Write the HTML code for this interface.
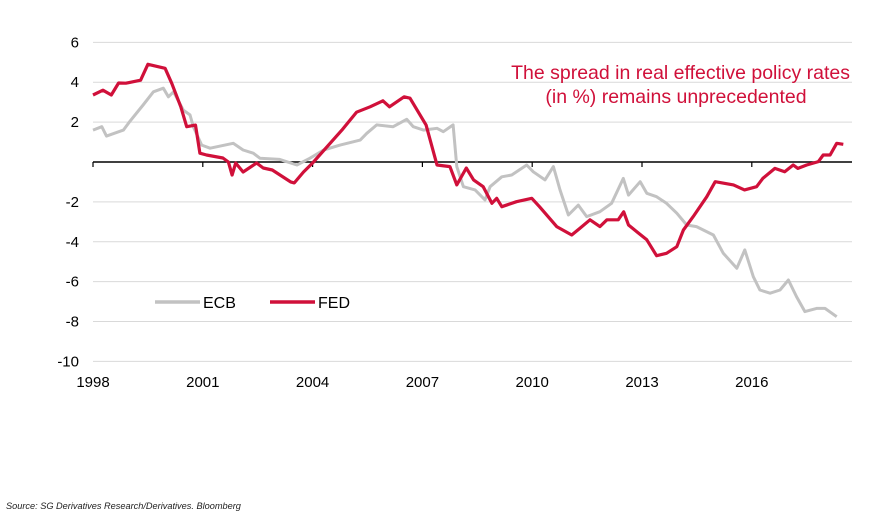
<!DOCTYPE html>
<html><head><meta charset="utf-8"><style>
body{margin:0;background:#fff;width:894px;height:515px;overflow:hidden;font-family:"Liberation Sans",Arial,sans-serif}
</style></head><body>
<svg width="894" height="515" xmlns="http://www.w3.org/2000/svg">
<g id="grid"></g>
<g id="ylab"></g>
<g id="xlab"></g>
<path id="ecb" fill="none" stroke="#c2c2c2" stroke-width="3" stroke-linejoin="round"/>
<path id="fed" fill="none" stroke="#d0103a" stroke-width="3.2" stroke-linejoin="round"/>
<g fill="#d0103a" font-size="19.5">
<text x="850" y="79" text-anchor="end">The spread in real effective policy rates</text>
<text x="676" y="103" text-anchor="middle">(in %) remains unprecedented</text>
</g>
<g font-size="16">
<line x1="155" y1="302" x2="200" y2="302" stroke="#c2c2c2" stroke-width="3.5"/>
<text x="203" y="308">ECB</text>
<line x1="270" y1="302" x2="315" y2="302" stroke="#d0103a" stroke-width="3.5"/>
<text x="318" y="308">FED</text>
</g>
<text x="6" y="509" font-size="9.2" font-style="italic" fill="#222">Source: SG Derivatives Research/Derivatives. Bloomberg</text>
</svg>
<script>
const yTicks=[6,4,2,0,-2,-4,-6,-8,-10];
const xTicks=[1998,2001,2004,2007,2010,2013,2016];
const fedYears=[1998.0,1998.27,1998.5,1998.7,1998.9,1999.3,1999.5,1999.97,2000.15,2000.4,2000.56,2000.8,2000.92,2001.1,2001.55,2001.7,2001.8,2001.9,2002.1,2002.47,2002.65,2002.9,2003.4,2003.5,2003.75,2004.0,2004.4,2004.8,2005.2,2005.57,2005.92,2006.1,2006.5,2006.66,2007.1,2007.4,2007.75,2007.94,2008.2,2008.4,2008.66,2008.9,2009.03,2009.17,2009.57,2009.99,2010.2,2010.67,2011.08,2011.3,2011.58,2011.85,2012.04,2012.35,2012.5,2012.63,2013.13,2013.4,2013.67,2013.95,2014.13,2014.4,2014.77,2015.0,2015.5,2015.8,2016.13,2016.3,2016.63,2016.9,2017.13,2017.26,2017.5,2017.82,2017.95,2018.14,2018.32,2018.5];
const fedValues=[3.36,3.6,3.36,3.96,3.95,4.1,4.9,4.7,3.95,2.77,1.77,1.85,0.44,0.35,0.2,0.0,-0.65,-0.05,-0.5,-0.05,-0.3,-0.4,-1.0,-1.05,-0.5,-0.05,0.77,1.6,2.5,2.77,3.07,2.77,3.27,3.2,1.85,-0.15,-0.23,-1.15,-0.3,-0.9,-1.24,-2.07,-1.82,-2.24,-1.99,-1.82,-2.24,-3.24,-3.66,-3.33,-2.9,-3.24,-2.9,-2.9,-2.5,-3.16,-3.9,-4.7,-4.58,-4.25,-3.41,-2.74,-1.74,-0.99,-1.15,-1.4,-1.24,-0.82,-0.32,-0.49,-0.15,-0.32,-0.15,0.02,0.35,0.35,0.94,0.89];
const ecbYears=[1998.0,1998.24,1998.37,1998.83,1999.0,1999.37,1999.65,1999.92,2000.06,2000.2,2000.47,2000.65,2000.74,2000.97,2001.2,2001.83,2002.1,2002.38,2002.56,2003.1,2003.57,2003.93,2004.3,2004.75,2005.3,2005.48,2005.75,2006.2,2006.57,2006.75,2007.03,2007.4,2007.57,2007.84,2007.94,2008.12,2008.44,2008.71,2008.85,2009.17,2009.44,2009.85,2010.03,2010.35,2010.58,2010.76,2010.99,2011.26,2011.49,2011.85,2012.17,2012.49,2012.63,2012.95,2013.13,2013.4,2013.67,2013.95,2014.22,2014.49,2014.95,2015.22,2015.59,2015.81,2016.04,2016.22,2016.5,2016.77,2017.0,2017.22,2017.45,2017.77,2018.0,2018.32];
const ecbValues=[1.6,1.77,1.3,1.6,2.02,2.86,3.52,3.7,3.27,3.52,2.6,2.36,1.77,0.85,0.69,0.94,0.6,0.44,0.19,0.13,-0.15,0.19,0.6,0.85,1.1,1.44,1.86,1.77,2.14,1.77,1.6,1.69,1.52,1.86,-0.23,-1.24,-1.4,-1.9,-1.24,-0.74,-0.65,-0.15,-0.49,-0.9,-0.23,-1.4,-2.66,-2.16,-2.74,-2.49,-2.07,-0.82,-1.66,-0.99,-1.57,-1.74,-2.07,-2.57,-3.16,-3.24,-3.66,-4.58,-5.33,-4.41,-5.75,-6.42,-6.58,-6.42,-5.92,-6.75,-7.5,-7.34,-7.34,-7.76];
const X0=93,PX_YR=36.6,Y0=162,PX_U=19.94,XR=852;
const xs=y=>X0+(y-1998)*PX_YR, ys=v=>Y0-v*PX_U;
const NS="http://www.w3.org/2000/svg";
const grid=document.getElementById('grid'),yl=document.getElementById('ylab'),xl=document.getElementById('xlab');
yTicks.forEach(t=>{
 const l=document.createElementNS(NS,'line');
 
 
 l.setAttribute('x1',X0);l.setAttribute('x2',XR);l.setAttribute('y1',ys(t));l.setAttribute('y2',ys(t));
 l.setAttribute('stroke',t===0?'#000':'#d9d9d9');l.setAttribute('stroke-width',t===0?1.5:1);
 grid.appendChild(l);
 if(t!==0){
 const tx=document.createElementNS(NS,'text');
 
 
 tx.setAttribute('x',79);tx.setAttribute('y',ys(t)+5);tx.setAttribute('text-anchor','end');tx.setAttribute('font-size','15');
 tx.textContent=t;yl.appendChild(tx);
 }
});
xTicks.forEach(t=>{
 const l=document.createElementNS(NS,'line');
 
 
 l.setAttribute('x1',xs(t));l.setAttribute('x2',xs(t));l.setAttribute('y1',Y0);l.setAttribute('y2',Y0+5);
 l.setAttribute('stroke','#000');l.setAttribute('stroke-width',1.2);grid.appendChild(l);
 const tx=document.createElementNS(NS,'text');
 
 
 tx.setAttribute('x',xs(t));tx.setAttribute('y',387);tx.setAttribute('text-anchor','middle');tx.setAttribute('font-size','15');
 tx.textContent=t;xl.appendChild(tx);
});
const path=(a,b)=>a.map((y,i)=>(i?'L':'M')+xs(y).toFixed(1)+','+ys(b[i]).toFixed(1)).join('');
document.getElementById('ecb').setAttribute('d',path(ecbYears,ecbValues));
document.getElementById('fed').setAttribute('d',path(fedYears,fedValues));
</script>
</body></html>
